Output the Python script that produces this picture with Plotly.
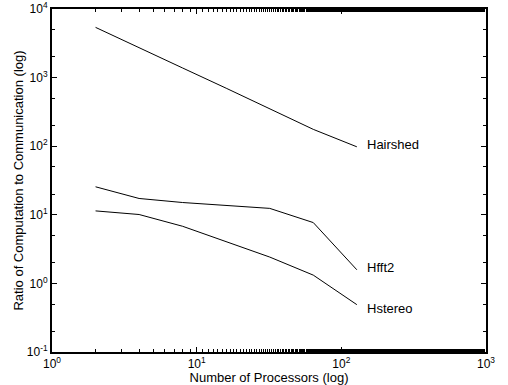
import math
import plotly.graph_objects as go

processors = [2, 4, 8, 16, 32, 64, 128]
hairshed = [5400, 2700, 1380, 700, 350, 176, 98]
hfft2 = [25.6, 17.3, 15.1, 13.6, 12.4, 7.7, 1.58]
hstereo = [11.4, 10.1, 6.8, 4.1, 2.42, 1.32, 0.49]
series = [("Hairshed", hairshed, 2), ("Hfft2", hfft2, 2), ("Hstereo", hstereo, -4)]

x_tickvals = [1, 10, 100, 1000]
x_ticktext = ["10<sup>0</sup>", "10<sup>1</sup>", "10<sup>2</sup>", "10<sup>3</sup>"]
y_tickvals = [0.1, 1, 10, 100, 1000, 10000]
y_ticktext = ["10<sup>-1</sup>", "10<sup>0</sup>", "10<sup>1</sup>", "10<sup>2</sup>",
              "10<sup>3</sup>", "10<sup>4</sup>"]

font = "Liberation Sans, Arial, Helvetica, sans-serif"

fig = go.Figure()
for name, vals, _ in series:
    fig.add_trace(go.Scatter(x=processors, y=vals, mode="lines", name=name,
                             line=dict(color="black", width=1)))

for name, vals, dy in series:
    fig.add_annotation(x=math.log10(processors[-1]), y=math.log10(vals[-1]),
                       xref="x", yref="y", text=name, showarrow=False,
                       xanchor="left", yanchor="middle", xshift=8, yshift=dy,
                       font=dict(family=font, size=13, color="black"))

axis_common = dict(
    type="log", showgrid=False, zeroline=False, automargin=False,
    showline=True, linecolor="black", linewidth=2, mirror="ticks",
    ticks="inside", ticklen=5, tickwidth=1, tickcolor="black",
    minor=dict(ticks="inside", ticklen=3, tickwidth=1, tickcolor="black", showgrid=False),
    tickfont=dict(family=font, size=12, color="black"),
)

fig.update_xaxes(range=[0, 3], tickvals=x_tickvals, ticktext=x_ticktext,
                 title=dict(text="Number of Processors (log)", standoff=0,
                            font=dict(family=font, size=13, color="black")),
                 **axis_common)
fig.update_yaxes(range=[-1, 4], tickvals=y_tickvals, ticktext=y_ticktext,
                 title=dict(text="Ratio of Computation to Communication (log)", standoff=0,
                            font=dict(family=font, size=13, color="black")),
                 **axis_common)

fig.update_layout(width=508, height=385, showlegend=False,
                  margin=dict(l=52, r=22, t=9, b=33),
                  plot_bgcolor="white", paper_bgcolor="white")

fig.write_html("out.html")
